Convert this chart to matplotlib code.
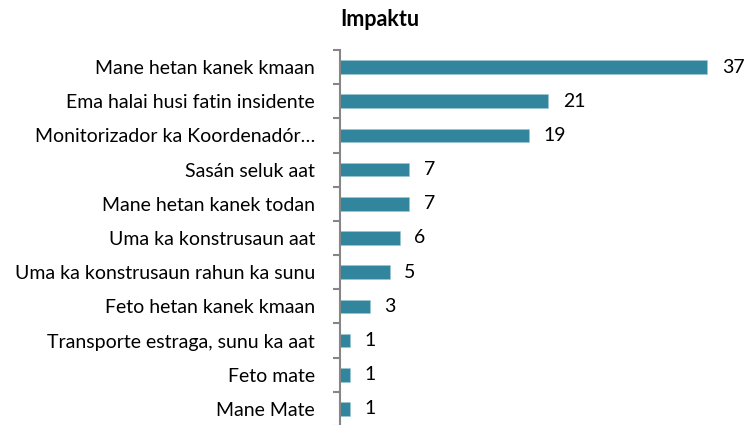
import numpy as np
import matplotlib
matplotlib.use("Agg")
import matplotlib.pyplot as plt

# data, top to bottom
categories = [
    "Mane hetan kanek kmaan",
    "Ema halai husi fatin insidente",
    "Monitorizador ka Koordenadór…",
    "Sasán seluk aat",
    "Mane hetan kanek todan",
    "Uma ka konstrusaun aat",
    "Uma ka konstrusaun rahun ka sunu",
    "Feto hetan kanek kmaan",
    "Transporte estraga, sunu ka aat",
    "Feto mate",
    "Mane Mate",
]
values = [37, 21, 19, 7, 7, 6, 5, 3, 1, 1, 1]

plt.rcParams['font.family'] = ['Lato', 'DejaVu Sans']

fig = plt.figure(figsize=(7.46, 4.25), dpi=100)
ax = fig.add_axes([340 / 746, -1 / 425, 400 / 746, 376 / 425])

n = len(categories)
y = np.arange(n)
ax.barh(y, values, height=0.4, color="#31859C", edgecolor="#9CC7D3", linewidth=0.4)

for yi, v in zip(y, values):
    ax.annotate(str(v), (v, yi), xytext=(10.5, 0), textcoords="offset points",
                va="center", ha="left", fontsize=14, color="black")

ax.set_xlim(0, 40.3)
ax.set_ylim(n - 0.5, -0.5)

# tick marks between categories, labels at the centres
ax.set_yticks(np.arange(n + 1) - 0.5)
ax.set_yticklabels([])
ax.set_yticks(y, minor=True)
ax.set_yticklabels(categories, minor=True, fontsize=14)
ax.tick_params(axis="y", which="major", length=5, width=1.5, color="#868686", direction="out")
ax.tick_params(axis="y", which="minor", length=0, pad=18)
ax.set_xticks([])

for side in ["top", "right", "bottom"]:
    ax.spines[side].set_visible(False)
ax.spines["left"].set_color("#868686")
ax.spines["left"].set_linewidth(1.5)

fig.text(380 / 746, 1 - 20 / 425, "Impaktu", ha="center", va="center",
         fontsize=15.5, fontweight="bold")

fig.savefig("out.png", dpi=100)
